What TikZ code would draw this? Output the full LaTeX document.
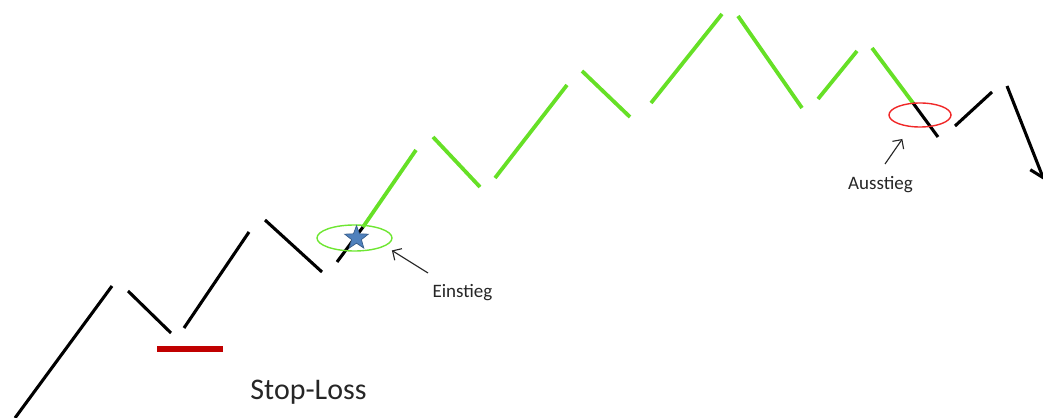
\documentclass[tikz,border=0pt]{standalone}
\usepackage{fontspec}
\setmainfont{Carlito}
\usetikzlibrary{shapes.geometric,arrows.meta}

\definecolor{TrendGreen}{RGB}{102,224,38}
\definecolor{RingGreen}{RGB}{110,230,50}
\definecolor{RingRed}{RGB}{240,40,40}
\definecolor{StopRed}{RGB}{192,0,0}
\definecolor{StarBlue}{RGB}{79,129,189}
\definecolor{StarEdge}{RGB}{56,93,138}

\begin{document}
\begin{tikzpicture}[
x=0.025cm, y=-0.025cm,
swing/.style={line width=2.2pt, black},
trend/.style={line width=2.7pt, TrendGreen},
ring/.style={ellipse, draw, line width=1pt, inner sep=0pt},
note/.style={inner sep=0pt, anchor=base, text=black!85, font=\fontsize{13.5}{16}\selectfont},
pointer/.style={-{Straight Barb[length=1.7mm]}, line width=0.8pt, black!85}
]
\useasboundingbox (0,0) rectangle (1043,418);
\clip (0,0) rectangle (1043,418);

% chart before entry
\draw[swing] (15,418) -- (112,286);
\draw[swing] (128,291) -- (171,333);
\draw[swing] (184,328) -- (249,232);
\draw[swing] (265,220) -- (322,272);
\draw[swing] (337,262) -- (363,227);

% trend
\draw[trend] (363,227) -- (416,150);
\draw[trend] (433,137) -- (480,187);
\draw[trend] (495,178) -- (567,85);
\draw[trend] (582,71) -- (630,117);
\draw[trend] (651,103) -- (722,14);
\draw[trend] (738,16) -- (802,108);
\draw[trend] (818,99) -- (857,51);
\draw[trend] (872,48) -- (913,103);

% chart after exit
\draw[swing] (913,103) -- (938,137);
\draw[swing] (955,126) -- (992,92);
\draw[swing, -{Straight Barb[length=3mm, width=4.5mm]}] (1007,86) -- (1044,180);

% stop loss
\draw[StopRed, line width=3.6pt] (157,349) -- (223,349);
\node[inner sep=0pt, anchor=base, text=black!85, font=\fontsize{21.3}{25}\selectfont] (stop) at (308.5,399) {Stop-Loss};

% entry
\node[ring, draw=RingGreen, minimum width=1.875cm, minimum height=0.65cm] (entry) at (354.5,238) {};
\node[star, star points=5, star point ratio=2.4, minimum size=0.62cm, inner sep=0pt, fill=StarBlue, draw=StarEdge, line width=0.5pt] (buy) at (356.5,238) {};
\node[note] (einstieg) at (462.5,298) {Einstieg};
\coordinate (einTail) at (428,273);
\draw[pointer, shorten >=0.2cm] (einTail) -- (entry.-15);

% exit
\node[ring, draw=RingRed, minimum width=1.55cm, minimum height=0.6cm] (exit) at (920,115) {};
\node[note] (ausstieg) at (880.5,190) {Ausstieg};
\coordinate (ausTail) at (885,164);
\draw[pointer, shorten >=0.36cm] (ausTail) -- (exit.232);
\end{tikzpicture}
\end{document}
